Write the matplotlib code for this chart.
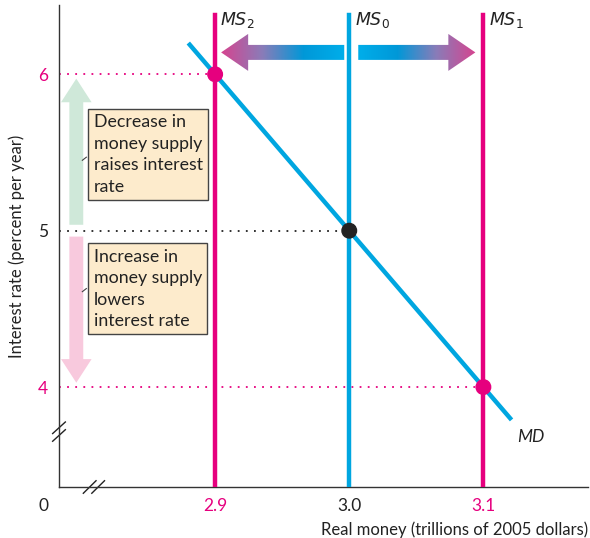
import numpy as np
import matplotlib
matplotlib.use("Agg")
import matplotlib.pyplot as plt
from matplotlib.patches import Polygon, FancyArrowPatch
from matplotlib.colors import LinearSegmentedColormap

plt.rcParams['font.family'] = ['Lato', 'DejaVu Sans']

# money supply curves
ms_labels = ['MS$_2$', 'MS$_0$', 'MS$_1$']
ms_values = [2.9, 3.0, 3.1]
# equilibrium interest rates for each supply
rates = [6, 5, 4]
# money demand line end points
md_x = [2.88, 3.121]
md_y = [6.2, 3.79]

x_ticks = [2.9, 3.0, 3.1]
y_ticks = [6, 5, 4]

PINK = '#e6007e'
BLUE = '#00a6e0'
DARK = '#222222'

fig = plt.figure(figsize=(5.9, 5.38), dpi=100)
ax = fig.add_axes([0.1, 0.0948, 0.8966, 0.895])
ax.set_xlim(2.7836, 3.178)
ax.set_ylim(3.361, 6.44)

for s in ['top', 'right']:
    ax.spines[s].set_visible(False)
for s in ['left', 'bottom']:
    ax.spines[s].set_color('#333333')
    ax.spines[s].set_linewidth(1.0)

tick_cols = [PINK, DARK, PINK]
ax.set_xticks(x_ticks)
ax.set_xticklabels(['%.1f' % v for v in x_ticks], fontsize=12.5)
ax.set_yticks(y_ticks)
ax.set_yticklabels([str(v) for v in y_ticks], fontsize=12.5)
for lab, c in zip(ax.get_xticklabels(), tick_cols):
    lab.set_color(c)
for lab, c in zip(ax.get_yticklabels(), tick_cols):
    lab.set_color(c)
ax.tick_params(length=0, pad=8)

ax.set_ylabel('Interest rate (percent per year)', fontsize=12, color=DARK, labelpad=9)
ax.set_xlabel('Real money (trillions of 2005 dollars)', fontsize=12, color=DARK,
              loc='right', labelpad=5)
ax.text(-0.03, -0.04, '0', transform=ax.transAxes, fontsize=12.5, color=DARK,
        ha='center', va='center')

# dotted guide lines
for xv, yv, c in zip(ms_values, rates, tick_cols):
    ax.plot([ax.get_xlim()[0], xv], [yv, yv], ls=(0, (1, 3.5)), color=c, lw=1.3, zorder=1)

# supply curves
ms_cols = [PINK, BLUE, PINK]
for lab, xv, c in zip(ms_labels, ms_values, ms_cols):
    ax.plot([xv, xv], [ax.get_ylim()[0], 6.38], color=c, lw=3.2, zorder=3)
    ax.text(xv + 0.004, 6.345, '$\\mathit{MS}$' + lab[2:], fontsize=12.5, color=DARK,
            va='center', ha='left', style='italic')

# demand
ax.plot(md_x, md_y, color=BLUE, lw=3.2, zorder=4, solid_capstyle='butt')
ax.text(md_x[1] + 0.004, md_y[1] - 0.06, 'MD', fontsize=12.5, style='italic',
        color=DARK, va='top', ha='left')

# equilibrium points
ax.scatter(ms_values, rates, s=110, c=[PINK, DARK, PINK], zorder=6)

# gradient arrows showing the shifts
grad = LinearSegmentedColormap.from_list('g', ['#00aeea', '#0098d8', '#8a7cb8', '#d6448f'])
px = 0.1 / 134.0
py = 1.0 / 156.5
ay = 6.14
hs, hh, hl = 7.5 * py, 18.5 * py, 27 * px


def grad_arrow(x0, x1):
    d = np.sign(x1 - x0)
    pts = [(x0, ay - hs), (x1 - d * hl, ay - hs), (x1 - d * hl, ay - hh), (x1, ay),
           (x1 - d * hl, ay + hh), (x1 - d * hl, ay + hs), (x0, ay + hs)]
    poly = Polygon(pts, closed=True, facecolor='none', edgecolor='none')
    ax.add_patch(poly)
    g = np.linspace(0, 1, 256).reshape(1, -1)
    if d < 0:
        g = g[:, ::-1]
    im = ax.imshow(g, cmap=grad, aspect='auto', zorder=5,
                   extent=[min(x0, x1), max(x0, x1), ay - hh, ay + hh])
    im.set_clip_path(poly)


grad_arrow(ms_values[1] - 5 * px, ms_values[0] + 6 * px)
grad_arrow(ms_values[1] + 9 * px, ms_values[2] - 8 * px)
ax.set_xlim(2.7836, 3.178)
ax.set_ylim(3.361, 6.44)

# vertical explanation arrows
ax_x = 2.7965
up = FancyArrowPatch((ax_x, rates[1] + 0.02), (ax_x, rates[0] - 0.01),
                     arrowstyle='simple,head_length=1.7,head_width=2.2,tail_width=1.0',
                     mutation_scale=10, color='#cfe8d9', lw=0, zorder=2)
down = FancyArrowPatch((ax_x, rates[1] - 0.02), (ax_x, rates[2] + 0.01),
                       arrowstyle='simple,head_length=1.7,head_width=2.2,tail_width=1.0',
                       mutation_scale=10, color='#f8c9dd', lw=0, zorder=2)
ax.add_patch(up)
ax.add_patch(down)

box = dict(boxstyle='square,pad=0.3', facecolor='#fdebcc', edgecolor='#444444', lw=1.0)
ax.text(2.8095, 5.745, 'Decrease in\nmoney supply\nraises interest\nrate', fontsize=12.8,
        va='top', ha='left', linespacing=1.42, color=DARK, bbox=box, zorder=7)
ax.text(2.8095, 4.885, 'Increase in\nmoney supply\nlowers\ninterest rate', fontsize=12.8,
        va='top', ha='left', linespacing=1.42, color=DARK, bbox=box, zorder=7)
ax.plot([ax_x + 0.0045, ax_x + 0.0075], [5.45, 5.47], color='#444444', lw=0.8, zorder=7)
ax.plot([ax_x + 0.0045, ax_x + 0.0075], [4.61, 4.63], color='#444444', lw=0.8, zorder=7)

# axis break marks
for off in (-0.008, 0.008):
    ax.plot([-0.012, 0.012], [0.115 + off - 0.012, 0.115 + off + 0.012],
            transform=ax.transAxes, color='#222222', lw=1.0, clip_on=False)
    ax.plot([0.066 + off - 0.012, 0.066 + off + 0.012], [-0.013, 0.013],
            transform=ax.transAxes, color='#222222', lw=1.0, clip_on=False)

fig.savefig('out.png', dpi=100)
